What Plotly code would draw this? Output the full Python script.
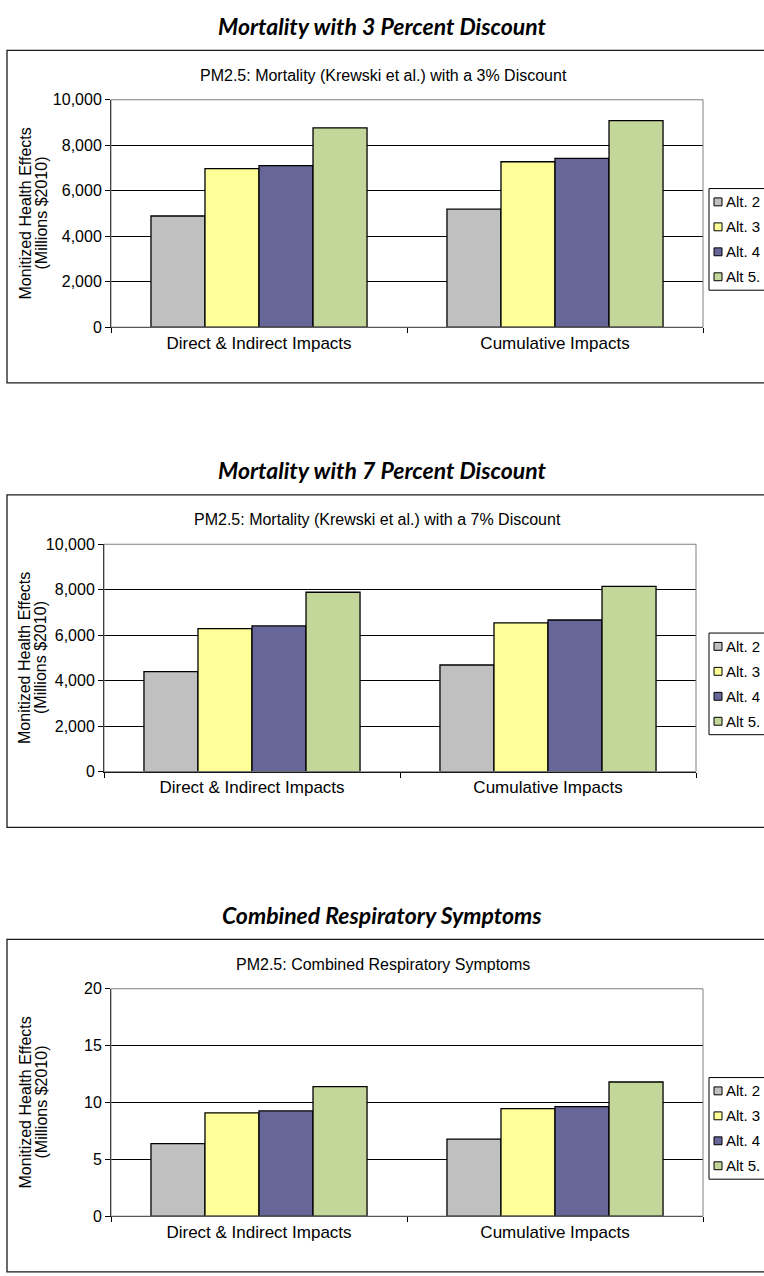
import plotly.graph_objects as go

W, H = 764, 1276

categories = ["Direct & Indirect Impacts", "Cumulative Impacts"]
series_names = ["Alt. 2", "Alt. 3", "Alt. 4", "Alt 5."]
series_colors = ["#C0C0C0", "#FFFF99", "#666699", "#C4D79B"]

# PM2.5 mortality, 3% discount (millions $2010)
mort3_alt2 = [4890, 5190]
mort3_alt3 = [6970, 7275]
mort3_alt4 = [7100, 7420]
mort3_alt5 = [8765, 9080]

# PM2.5 mortality, 7% discount (millions $2010)
mort7_alt2 = [4400, 4690]
mort7_alt3 = [6290, 6540]
mort7_alt4 = [6410, 6670]
mort7_alt5 = [7890, 8150]

# combined respiratory symptoms (millions $2010)
resp_alt2 = [6.38, 6.78]
resp_alt3 = [9.09, 9.46]
resp_alt4 = [9.26, 9.64]
resp_alt5 = [11.40, 11.80]

mort_ticks = [0, 2000, 4000, 6000, 8000, 10000]
mort_tick_labels = ["0", "2,000", "4,000", "6,000", "8,000", "10,000"]
resp_ticks = [0, 5, 10, 15, 20]
resp_tick_labels = ["0", "5", "10", "15", "20"]

y_title_lines = ["Monitized Health Effects", "(Millions $2010)"]

panels = [
    dict(heading="Mortality with 3 Percent Discount",
         title="PM2.5: Mortality (Krewski et al.) with a 3% Discount",
         series=[mort3_alt2, mort3_alt3, mort3_alt4, mort3_alt5],
         ticks=mort_ticks, tick_labels=mort_tick_labels,
         top=0, plot_x=(111, 703), title_x=383),
    dict(heading="Mortality with 7 Percent Discount",
         title="PM2.5: Mortality (Krewski et al.) with a 7% Discount",
         series=[mort7_alt2, mort7_alt3, mort7_alt4, mort7_alt5],
         ticks=mort_ticks, tick_labels=mort_tick_labels,
         top=450.5, plot_x=(104, 696), title_x=377),
    dict(heading="Combined Respiratory Symptoms",
         title="PM2.5: Combined Respiratory Symptoms",
         series=[resp_alt2, resp_alt3, resp_alt4, resp_alt5],
         ticks=resp_ticks, tick_labels=resp_tick_labels,
         top=901, plot_x=(111, 703), title_x=383),
]

ARIAL = "Liberation Sans, Arial, sans-serif"


def px_x(v):
    return v / W


def px_y(v):
    return 1 - v / H


def label(text, x, y, size, family=ARIAL, xanchor="center", angle=0):
    return dict(text=text, xref="paper", yref="paper", x=px_x(x), y=px_y(y),
                xanchor=xanchor, yanchor="middle", textangle=angle,
                showarrow=False, font=dict(family=family, size=size, color="black"))


fig = go.Figure()
shapes = []
annotations = []

for i, p in enumerate(panels):
    n = i + 1
    t = p["top"]
    xa = "x" if n == 1 else f"x{n}"
    ya = "y" if n == 1 else f"y{n}"

    for name, color, vals in zip(series_names, series_colors, p["series"]):
        fig.add_trace(go.Bar(
            x=categories, y=vals, name=name,
            marker=dict(color=color, line=dict(color="black", width=1.3)),
            xaxis=xa, yaxis=ya, showlegend=False,
        ))

    plot_top, plot_bot = t + 93, t + 323.5
    fig.update_layout({
        f"xaxis{n}": dict(
            domain=[px_x(p["plot_x"][0]), px_x(p["plot_x"][1])],
            anchor=ya, showline=True, linecolor="black", linewidth=1,
            ticks="outside", tickson="boundaries", ticklen=5, tickcolor="black",
            tickfont=dict(family=ARIAL, size=17, color="black"),
            showgrid=False, fixedrange=True,
        ),
        f"yaxis{n}": dict(
            domain=[px_y(plot_bot), px_y(plot_top)],
            anchor=xa, range=[0, p["ticks"][-1]],
            tickvals=p["ticks"], ticktext=p["tick_labels"],
            showgrid=True, gridcolor="black", gridwidth=1,
            showline=True, linecolor="black", linewidth=1,
            ticks="outside", ticklen=5, tickcolor="black",
            tickfont=dict(family=ARIAL, size=16, color="black"),
            zeroline=False, fixedrange=True,
        ),
    })

    # gray plot-area border (top / right)
    shapes.append(dict(type="rect", xref=f"{xa} domain", yref=f"{ya} domain",
                       x0=0, x1=1, y0=0, y1=1, layer="above",
                       line=dict(color="#808080", width=1)))
    # outer chart frame
    shapes.append(dict(type="rect", xref="paper", yref="paper",
                       x0=px_x(7), x1=px_x(790),
                       y0=px_y(min(t + 380, 1300)), y1=px_y(t + 43),
                       line=dict(color="#1a1a1a", width=1.3)))

    annotations.append(label(f"<b><i>{p['heading']}</i></b>", 382, t + 18, 23,
                             family="Lato, Carlito, sans-serif"))
    annotations.append(label(p["title"], p["title_x"], t + 68, 16))
    mid = (plot_top + plot_bot) / 2
    for k, line in enumerate(y_title_lines):
        annotations.append(label(line, 25 + 16 * k, mid, 16, angle=-90))

    # legend box
    shapes.append(dict(type="rect", xref="paper", yref="paper",
                       x0=px_x(709), x1=px_x(790),
                       y0=px_y(t + 286), y1=px_y(t + 183),
                       line=dict(color="black", width=1)))
    for k, (name, color) in enumerate(zip(series_names, series_colors)):
        cy = t + 196.5 + 25.3 * k
        shapes.append(dict(type="rect", xref="paper", yref="paper",
                           x0=px_x(714), x1=px_x(722),
                           y0=px_y(cy + 4), y1=px_y(cy - 4),
                           fillcolor=color, line=dict(color="black", width=1)))
        annotations.append(label(name, 724, cy, 15, xanchor="left"))

fig.update_layout(
    width=W, height=H, autosize=False,
    margin=dict(l=0, r=0, t=0, b=0),
    paper_bgcolor="white", plot_bgcolor="white",
    barmode="group", bargap=0.27, bargroupgap=0,
    shapes=shapes, annotations=annotations,
)

# drop the default page margin so the 764x1276 figure fills the window exactly
fig.write_html("out.html", config={"displayModeBar": False},
               post_script="document.body.style.margin='0';"
                           "document.body.style.overflow='hidden';")
